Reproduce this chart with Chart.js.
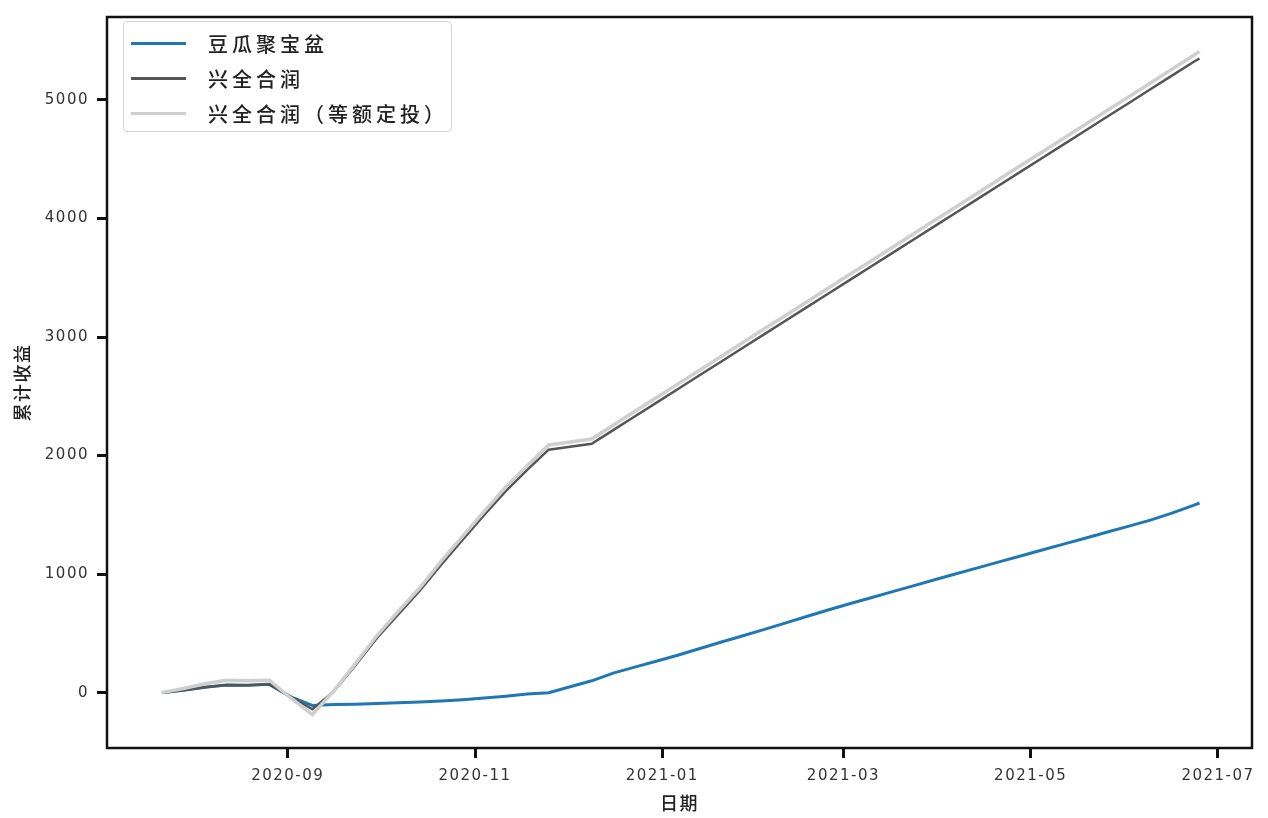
<!DOCTYPE html>
<html>
<head>
<meta charset="utf-8">
<script src="https://cdn.jsdelivr.net/npm/chart.js@4"></script>
<style>
  html, body { margin: 0; padding: 0; background: #fff; }
  #wrap { position: relative; width: 1268px; height: 818px; }
  #legend {
    position: absolute; left: 123px; top: 21px; width: 329px; height: 111px;
    box-sizing: border-box; border: 1px solid #d4d4d4; border-radius: 4px;
    background: rgba(255,255,255,0.85); padding-top: 4px;
    font-family: "Noto Sans CJK SC"; font-size: 20px; font-weight: 500; letter-spacing: 4px; color: #222;
  }
  .row { height: 35px; display: flex; align-items: center; }
  .sw { width: 55px; height: 3px; margin-left: 7px; margin-right: 22px; }
</style>
</head>
<body>
<div id="wrap">
  <canvas id="chart" width="1268" height="818"></canvas>
  <div id="legend"></div>
</div>
<script>
const DATES = [
  '2020-07-22','2020-07-29','2020-08-05','2020-08-12','2020-08-19','2020-08-26','2020-09-02','2020-09-09',
  '2020-09-16','2020-09-23','2020-09-30','2020-10-07','2020-10-14','2020-10-21','2020-10-28','2020-11-04',
  '2020-11-11','2020-11-18','2020-11-25','2020-12-02','2020-12-09','2020-12-16','2020-12-23','2020-12-30',
  '2021-01-06','2021-01-13','2021-01-20','2021-01-27','2021-02-03','2021-02-10','2021-02-17','2021-02-24',
  '2021-03-03','2021-03-10','2021-03-17','2021-03-24','2021-03-31','2021-04-07','2021-04-14','2021-04-21',
  '2021-04-28','2021-05-05','2021-05-12','2021-05-19','2021-05-26','2021-06-02','2021-06-09','2021-06-16',
  '2021-06-23','2021-06-25'
];
const DOUGUA = [
  0, 20, 45, 65, 62, 70, -35, -108,
  -100, -98, -92, -86, -78, -70, -60, -46,
  -30, -12, 0, 50, 100, 165, 215, 265,
  315, 370, 425, 478, 532, 587, 642, 697,
  750, 800, 852, 903, 955, 1005, 1055, 1105,
  1155, 1205, 1255, 1305, 1355, 1405, 1455, 1515,
  1580, 1600
];
const XQHR = [
  0, 20, 45, 65, 62, 70, -35, -140,
  10, 230, 460, 660, 860, 1080, 1290, 1500,
  1700, 1880, 2050, 2075, 2100, 2215, 2330, 2445,
  2560, 2675, 2790, 2905, 3020, 3135, 3250, 3365,
  3480, 3595, 3710, 3825, 3940, 4055, 4170, 4285,
  4400, 4515, 4630, 4745, 4860, 4975, 5090, 5205,
  5320, 5350
];
const XQHR_DCA = [
  0, 35, 75, 105, 100, 105, -45, -185,
  15, 245, 480, 685, 885, 1110, 1320, 1530,
  1735, 1915, 2090, 2115, 2140, 2256, 2372, 2487,
  2603, 2718, 2834, 2949, 3065, 3180, 3296, 3411,
  3527, 3642, 3758, 3873, 3989, 4104, 4220, 4335,
  4451, 4566, 4682, 4797, 4913, 5028, 5144, 5259,
  5375, 5410
];
const NAMES = ['豆瓜聚宝盆', '兴全合润', '兴全合润（等额定投）'];
const X_TICKS = ['2020-09', '2020-11', '2021-01', '2021-03', '2021-05', '2021-07'];
const Y_TICKS = [0, 1000, 2000, 3000, 4000, 5000];

const ts = s => Date.parse(s.length === 7 ? s + '-01T00:00:00Z' : s + 'T00:00:00Z');
const pts = vals => DATES.map((d, i) => ({ x: ts(d), y: vals[i] }));
const tickLabel = {};
X_TICKS.forEach(t => { tickLabel[ts(t)] = t; });

const spacing = chart => { chart.ctx.letterSpacing = '1.5px'; };
const frame = {
  id: 'frame',
  beforeLayout: spacing,
  beforeDraw: spacing,
  afterDatasetsDraw(chart) {
    const { ctx, chartArea: a } = chart;
    ctx.save();
    ctx.strokeStyle = '#111';
    ctx.lineWidth = 2.5;
    ctx.strokeRect(a.left, a.top, a.right - a.left, a.bottom - a.top);
    ctx.restore();
  }
};

const tickFont = { family: 'DejaVu Sans', size: 15 };
const grid = { drawOnChartArea: false, tickLength: 10, tickWidth: 3, tickColor: '#111' };

const chart = new Chart(document.getElementById('chart'), {
  type: 'line',
  data: {
    datasets: [
      { label: NAMES[0], data: pts(DOUGUA), borderColor: '#1f77b4', borderWidth: 3, order: 2 },
      { label: NAMES[1], data: pts(XQHR), borderColor: '#555555', borderWidth: 2.5, order: 1 },
      { label: NAMES[2], data: pts(XQHR_DCA), borderColor: '#cfcfcf', borderWidth: 3.5, order: 0 },
    ],
  },
  options: {
    responsive: false,
    animation: false,
    devicePixelRatio: 1,
    layout: { padding: { left: 0, right: 16, top: 8, bottom: 0 } },
    elements: { point: { radius: 0 }, line: { tension: 0 } },
    plugins: { legend: { display: false }, tooltip: { enabled: false } },
    scales: {
      x: {
        type: 'linear',
        min: Date.UTC(2020, 6, 4, 3),
        max: Date.UTC(2021, 6, 12, 2),
        afterBuildTicks: s => { s.ticks = X_TICKS.map(t => ({ value: ts(t) })); },
        afterFit: s => { s.height = 70; },
        grid, border: { display: false },
        ticks: { font: tickFont, color: '#333', padding: 9, maxRotation: 0, callback: v => tickLabel[v] },
        title: { display: true, text: '日期', color: '#222', padding: { top: 0, bottom: 4 },
                 font: { family: 'Noto Sans CJK SC', size: 18, weight: 500 } },
      },
      y: {
        min: -467,
        max: 5700,
        afterBuildTicks: s => { s.ticks = Y_TICKS.map(v => ({ value: v })); },
        afterFit: s => { s.width = 107; },
        grid, border: { display: false },
        ticks: { font: tickFont, color: '#333', padding: 8, callback: v => String(v) },
        title: { display: true, text: '累计收益', color: '#222', padding: { top: 11, bottom: 0 },
                 font: { family: 'Noto Sans CJK SC', size: 18, weight: 500 } },
      },
    },
  },
  plugins: [frame],
});

const legend = document.getElementById('legend');
chart.data.datasets.forEach(ds => {
  const row = document.createElement('div');
  row.className = 'row';
  row.innerHTML = `<span class="sw" style="background:${ds.borderColor}"></span><span>${ds.label}</span>`;
  legend.appendChild(row);
});
</script>
</body>
</html>
